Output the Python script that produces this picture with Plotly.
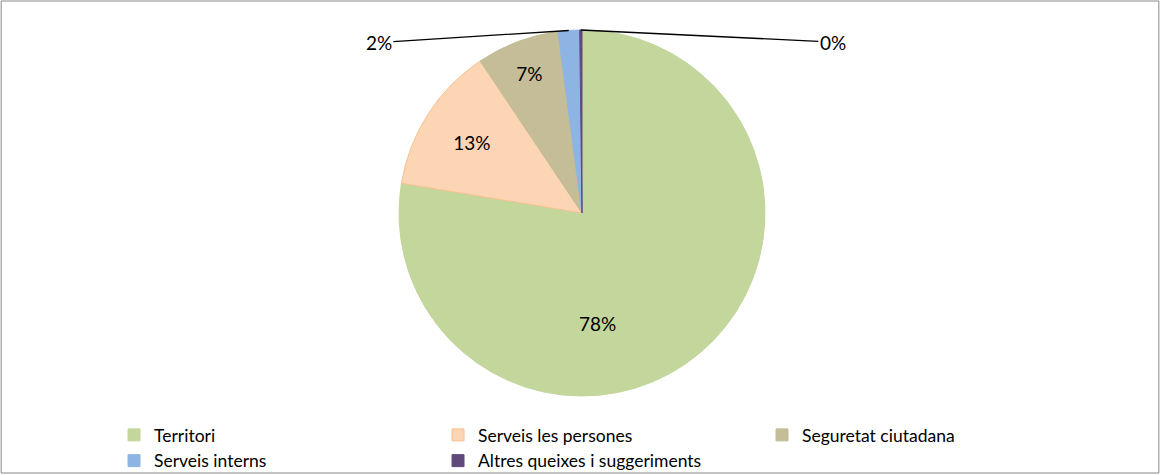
import math
import plotly.graph_objects as go

categories = ["Territori", "Serveis les persones", "Seguretat ciutadana",
              "Serveis interns", "Altres queixes i suggeriments"]
values = [77.6, 13.0, 7.3, 1.9, 0.2]
colors = ["#C3D69B", "#FCD5B5", "#C4BD97", "#8DB4E2", "#604A7B"]
line_colors = ["#C3D69B", "#FAC090", "#C4BD97", "#8DB4E2", "#604A7B"]

W, H = 1160, 475
MB = 58
HP = H - MB
FONT = "Lato, Calibri, 'Open Sans', sans-serif"

# pie domain (square region in pixels -> paper)
cx_px, cy_px, r_px = 582, 213, 183
dom_x = [(cx_px - r_px) / W, (cx_px + r_px) / W]
dom_y = [1 - (cy_px + r_px) / HP, 1 - (cy_px - r_px) / HP]

textpos = ["none", "inside", "inside", "none", "none"]

fig = go.Figure(go.Pie(
    labels=categories, values=values, sort=False, direction="clockwise",
    rotation=0,
    marker=dict(colors=colors, line=dict(color=line_colors, width=1)),
    textinfo="percent", textposition=textpos,
    insidetextorientation="horizontal",
    texttemplate="%{percent:.0%}",
    textfont=dict(family=FONT, size=19, color="black"),
    domain=dict(x=dom_x, y=dom_y),
    hoverinfo="label+percent",
))

total = sum(values)


def pct(v):
    return f"{round(100 * v / total)}%"


annotations = []

# big slice label placed "best fit" like the original (angle deg clockwise from top, radius fraction)
ang = math.radians(173)
rf = 0.68
annotations.append(dict(
    x=(cx_px + rf * r_px * math.sin(ang)) / W,
    y=1 - (cy_px - rf * r_px * math.cos(ang)) / HP,
    xref="paper", yref="paper", showarrow=False, text=pct(values[0]),
    font=dict(family=FONT, size=19, color="black"),
))

# outside labels for tiny slices with leader lines
offsets = {3: (-190, 12), 4: (252, 12)}
cum = 0
for i, v in enumerate(values):
    mid = (cum + v / 2) / total
    cum += v
    if i in offsets:
        a = 2 * math.pi * mid
        px = cx_px + r_px * math.sin(a)
        py = cy_px - r_px * math.cos(a)
        ax, ay = offsets[i]
        annotations.append(dict(
            x=px / W, y=1 - py / HP, xref="paper", yref="paper",
            ax=ax, ay=ay, axref="pixel", ayref="pixel",
            text=pct(v), showarrow=True,
            arrowhead=0, arrowwidth=1.3, arrowcolor="black", standoff=0,
            font=dict(family=FONT, size=19, color="black"),
        ))

fig.update_layout(
    width=W, height=H,
    margin=dict(l=0, r=0, t=0, b=MB, autoexpand=False),
    paper_bgcolor="white", plot_bgcolor="white",
    annotations=annotations,
    showlegend=True,
    legend=dict(
        orientation="h", x=0.0983, y=0, xanchor="left", yanchor="top",
        entrywidth=279,
        font=dict(family=FONT, size=17.5, color="black"),
        bgcolor="rgba(0,0,0,0)",
    ),
    shapes=[dict(type="rect", xref="paper", yref="paper", x0=0.001, x1=0.999,
                 y0=-(MB - 2) / HP, y1=1 - 1 / HP,
                 line=dict(color="#888888", width=1))],
)

fig.write_html("out.html", config={"displayModeBar": False},
               post_script="document.body.style.margin='0px';")
